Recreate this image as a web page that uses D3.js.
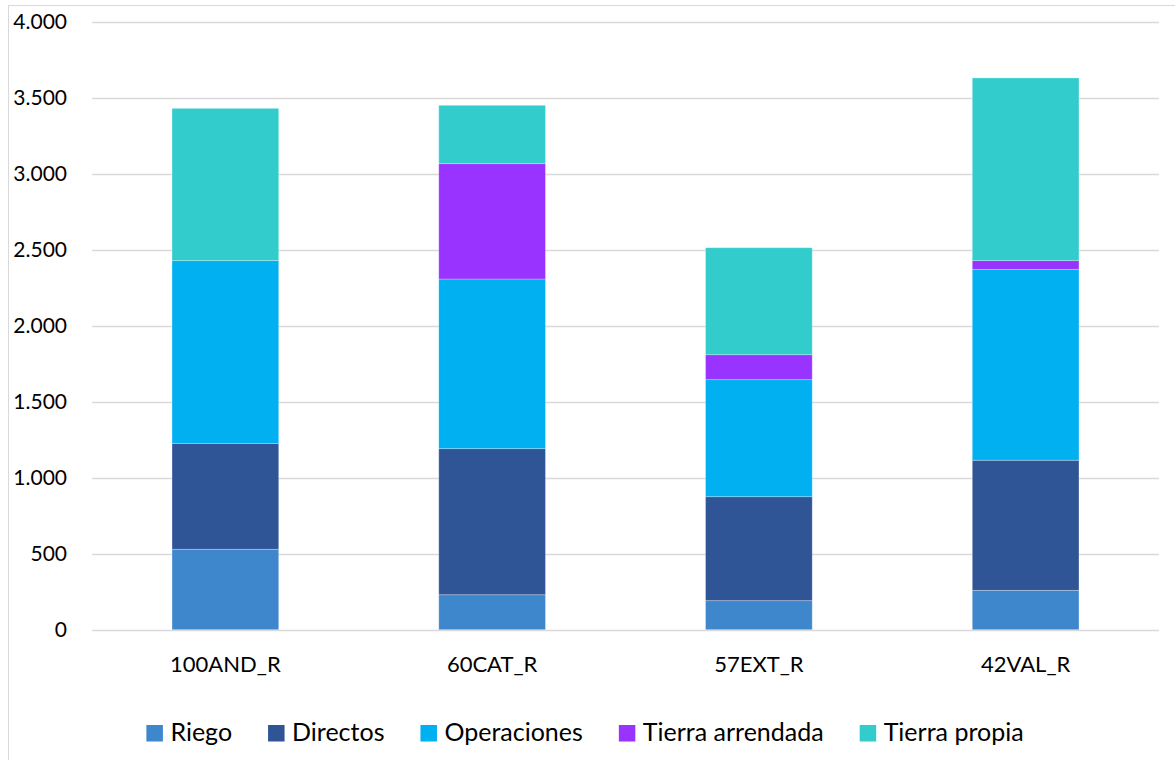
<!DOCTYPE html>
<html>
<head>
<meta charset="utf-8">
<script src="https://cdn.jsdelivr.net/npm/d3@7"></script>
<style>
  body { margin: 0; background: #fff; }
  svg { display: block; font-family: Lato, "Open Sans", sans-serif; }
</style>
</head>
<body>
<div id="chart"></div>
<script>
// data
var categories = ["100AND_R", "60CAT_R", "57EXT_R", "42VAL_R"];
var seriesNames = ["Riego", "Directos", "Operaciones", "Tierra arrendada", "Tierra propia"];
var riego = [529, 230, 191, 259];
var directos = [697, 961, 684, 856];
var operaciones = [1202, 1116, 770, 1256];
var tierraArrendada = [0, 759, 164, 57];
var tierraPropia = [1002, 384, 704, 1202];
var yTicks = [0, 500, 1000, 1500, 2000, 2500, 3000, 3500, 4000];
var colors = ["#3e87cc", "#2f5597", "#00b0f0", "#9933ff", "#33cccc"];

var W = 1175, H = 760;
var svg = d3.select("#chart").append("svg").attr("width", W).attr("height", H);

// chart frame (only left and top visible)
svg.append("rect")
  .attr("x", 8.5).attr("y", 5.5)
  .attr("width", W + 10).attr("height", H + 10)
  .style("fill", "none").style("stroke", "#d9d9d9");

var rows = categories.map(function (c, i) {
  return { cat: c, "Riego": riego[i], "Directos": directos[i], "Operaciones": operaciones[i],
           "Tierra arrendada": tierraArrendada[i], "Tierra propia": tierraPropia[i] };
});
var stacked = d3.stack().keys(seriesNames)(rows);

var x = d3.scaleBand().domain(categories).range([92, 1159]).paddingInner(0.6).paddingOuter(0.3);
var y = d3.scaleLinear().domain([0, 4000]).range([629.7, 21.7]);

//Gridlines
svg.append("g").selectAll("line")
  .data(yTicks)
  .enter()
  .append("line")
  .attr("x1", 92).attr("x2", 1159)
  .attr("y1", function (d) { return Math.round(y(d)) + 0.5; })
  .attr("y2", function (d) { return Math.round(y(d)) + 0.5; })
  .style("stroke", "#d9d9d9")
  .style("stroke-width", 1.3);

//Y tick labels
var fmt = function (d) { return d3.format(",")(d).replace(/,/g, "."); };
svg.append("g").selectAll("text")
  .data(yTicks)
  .enter()
  .append("text")
  .attr("x", 67)
  .attr("y", function (d) { return y(d) + 7.5; })
  .attr("text-anchor", "end")
  .style("font-size", "21px")
  .style("fill", "#000")
  .text(fmt);

//Bars
svg.append("g").selectAll("g")
  .data(stacked)
  .enter()
  .append("g")
  .style("fill", function (d, i) { return colors[i]; })
  .selectAll("rect")
  .data(function (d) { return d; })
  .enter()
  .append("rect")
  .attr("x", function (d) { return x(d.data.cat); })
  .attr("width", x.bandwidth())
  .attr("y", function (d) { return y(d[1]); })
  .attr("height", function (d) { return y(d[0]) - y(d[1]); })
  .style("stroke", "#ffffff")
  .style("stroke-opacity", 0.35)
  .style("stroke-width", 0.8);

//Category labels
svg.append("g").selectAll("text")
  .data(categories)
  .enter()
  .append("text")
  .attr("x", function (d) { return x(d) + x.bandwidth() / 2; })
  .attr("y", 672)
  .attr("text-anchor", "middle")
  .style("font-size", "22px")
  .style("fill", "#000")
  .text(function (d) { return d; });

//Legend
var legend = svg.append("g");
var items = legend.selectAll("g")
  .data(seriesNames)
  .enter()
  .append("g");
items.append("rect")
  .attr("y", 725).attr("width", 16.5).attr("height", 16.5)
  .style("fill", function (d, i) { return colors[i]; });
items.append("text")
  .attr("x", 24).attr("y", 741)
  .style("font-size", "25px")
  .style("fill", "#000")
  .text(function (d) { return d; });
var pos = 0, offsets = [];
items.each(function () {
  offsets.push(pos);
  pos += 24 + this.querySelector("text").getComputedTextLength() + 36;
});
var total = pos - 36;
var start = 585 - total / 2;
items.attr("transform", function (d, i) { return "translate(" + (start + offsets[i]) + ",0)"; });
</script>
</body>
</html>
